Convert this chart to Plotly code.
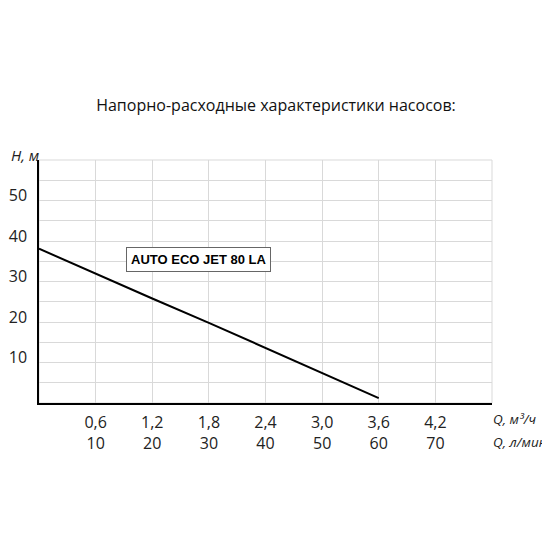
import plotly.graph_objects as go

# Data
q_m3h = [0.0, 0.6, 1.2, 1.8, 2.4, 3.0, 3.6]
head_m = [38.1, 31.9, 25.8, 19.8, 13.6, 7.4, 1.2]

x_tickvals = [0.6, 1.2, 1.8, 2.4, 3.0, 3.6, 4.2]
x_labels_m3h = ["0,6", "1,2", "1,8", "2,4", "3,0", "3,6", "4,2"]
x_labels_lmin = ["10", "20", "30", "40", "50", "60", "70"]
y_tickvals = [10, 20, 30, 40, 50]
y_labels = ["10", "20", "30", "40", "50"]

title_text = "Напорно-расходные характеристики насосов:"
series_name = "AUTO ECO JET 80 LA"

FONT = "Open Sans"
GRID = "#d9d9d9"
OFF = 8  # page body margin offset
W, H = 550, 550
L, R, T, B = 39 - OFF, 58 + OFF, 160 - OFF, 147 + OFF
PW, PH = W - L - R, H - T - B

fig = go.Figure()
fig.add_trace(go.Scatter(
    x=q_m3h, y=head_m, mode="lines",
    line=dict(color="black", width=2),
    name=series_name, showlegend=False, hoverinfo="skip",
))

fig.update_layout(
    width=W, height=H,
    paper_bgcolor="white", plot_bgcolor="white",
    margin=dict(l=L, r=R, t=T, b=B, autoexpand=False),
    showlegend=False,
    title=dict(text=title_text, x=(276 - OFF) / W, xanchor="center", y=1 - (105 - OFF) / H,
               yanchor="middle", font=dict(family=FONT, size=16, color="#111")),
    xaxis=dict(
        range=[0, 4.8], tickvals=x_tickvals,
        ticktext=[f"{a}<br>{b}" for a, b in zip(x_labels_m3h, x_labels_lmin)],
        showgrid=True, gridcolor=GRID, gridwidth=1,
        showline=True, linecolor="black", linewidth=1.5,
        ticks="", zeroline=False, automargin=False, ticklabelstandoff=4,
        tickfont=dict(family=FONT, size=16, color="#222"),
        minor=dict(dtick=0.6, tick0=0, showgrid=True, gridcolor=GRID, gridwidth=1),
    ),
    yaxis=dict(
        range=[0, 60], tickvals=y_tickvals, ticktext=y_labels,
        showgrid=True, gridcolor=GRID, gridwidth=1,
        showline=True, linecolor="black", linewidth=1.5,
        ticks="", zeroline=False, automargin=False, ticklabelstandoff=7, ticklabelshift=-5,
        tickfont=dict(family=FONT, size=16, color="#222"),
        minor=dict(dtick=5, tick0=0, showgrid=True, gridcolor=GRID, gridwidth=1),
    ),
    shapes=[dict(type="rect", xref="paper", yref="paper", x0=0, x1=1, y0=0, y1=1,
                 line=dict(color=GRID, width=1), layer="below")],
    annotations=[
        dict(text=series_name, x=1.69, y=35.5, xref="x", yref="y", showarrow=False,
             font=dict(family="Liberation Sans", size=13, color="black", weight="bold"),
             bgcolor="white", bordercolor="#666", borderwidth=1, borderpad=4),
        dict(text="<i>H, м</i>", x=0, y=1, xref="paper", yref="paper", showarrow=False,
             xanchor="left", yanchor="middle", yshift=5, xshift=-L + 1,
             font=dict(family=FONT, size=15, color="#222")),
        dict(text="<i>Q, м³/ч</i>", x=1, y=0, xref="paper", yref="paper", showarrow=False,
             xanchor="left", yanchor="middle", yshift=-16, xshift=-1,
             font=dict(family=FONT, size=13.5, color="#222")),
        dict(text="<i>Q, л/мин</i>", x=1, y=0, xref="paper", yref="paper", showarrow=False,
             xanchor="left", yanchor="middle", yshift=-39, xshift=-1,
             font=dict(family=FONT, size=13.5, color="#222")),
    ],
)

fig.write_html("out.html")
